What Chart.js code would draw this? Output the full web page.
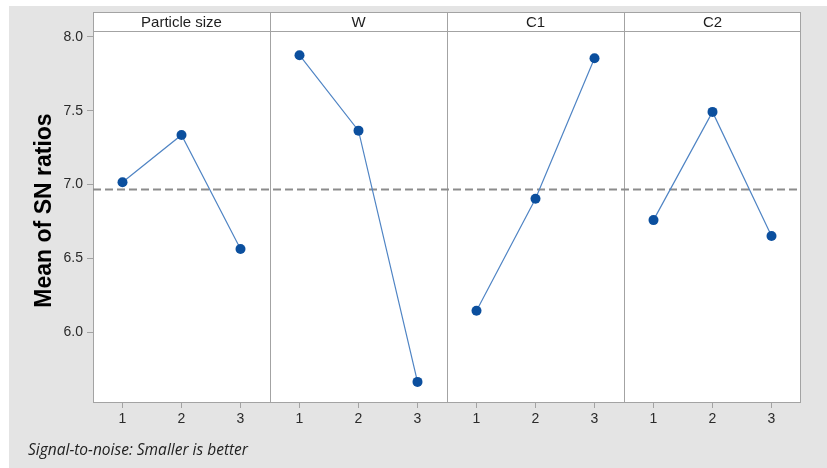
<!DOCTYPE html>
<html>
<head>
<meta charset="utf-8">
<script src="https://cdn.jsdelivr.net/npm/chart.js@4.4.1/dist/chart.umd.min.js"></script>
<style>
  html, body { margin: 0; padding: 0; background: #ffffff; }
  canvas { display: block; }
</style>
</head>
<body>
<canvas id="chart" width="827" height="468"></canvas>
<script>
// Main effects for SN ratios, one panel per factor
const factors = ['Particle size', 'W', 'C1', 'C2'];
const levels = ['1', '2', '3'];
const snParticleSize = [7.015, 7.336, 6.563];
const snW = [7.876, 7.365, 5.663];
const snC1 = [6.145, 6.904, 7.856];
const snC2 = [6.759, 7.492, 6.651];
const overallMean = 6.967;
const yTicks = [6.0, 6.5, 7.0, 7.5, 8.0];
const yTitle = 'Mean of SN ratios';
const footnote = 'Signal-to-noise: Smaller is better';

const seriesByFactor = [snParticleSize, snW, snC1, snC2];
const perPanel = levels.length;
const xMin = 0.5;
const xMax = factors.length * perPanel + 0.5;

const frameColor = '#a3a3a3';
const pointColor = '#0b4f9e';
const lineColor = '#4f84c4';

const datasets = seriesByFactor.map((vals, i) => ({
  label: factors[i],
  data: vals.map((v, j) => ({ x: i * perPanel + j + 1, y: v })),
  borderColor: lineColor,
  borderWidth: 1.2,
  pointBackgroundColor: pointColor,
  pointBorderColor: pointColor,
  pointRadius: 5,
  pointBorderWidth: 0,
  tension: 0,
  order: 0
}));

datasets.push({
  label: 'mean',
  data: [{ x: xMin, y: overallMean }, { x: xMax, y: overallMean }],
  borderColor: '#8c8c8c',
  borderWidth: 2,
  borderDash: [8, 4],
  pointRadius: 0,
  order: 10
});

const HEADER_H = 19;

const panelFrame = {
  id: 'panelFrame',
  beforeDraw(chart) {
    const { ctx, chartArea: a, width, height } = chart;
    ctx.save();
    ctx.fillStyle = '#ffffff';
    ctx.fillRect(0, 0, width, height);
    ctx.fillStyle = '#e4e4e4';
    ctx.fillRect(9, 6, width - 9, height - 6);
    ctx.fillStyle = '#ffffff';
    ctx.fillRect(a.left, a.top - HEADER_H, a.right - a.left, a.bottom - a.top + HEADER_H);
    ctx.restore();
  },
  beforeDatasetsDraw(chart) {
    const { ctx, chartArea: a, scales } = chart;
    const x = scales.x;
    ctx.save();
    ctx.strokeStyle = frameColor;
    ctx.lineWidth = 1;
    // panel dividers
    for (let i = 1; i < factors.length; i++) {
      const px = Math.round(x.getPixelForValue(i * perPanel + 0.5)) + 0.5;
      ctx.beginPath();
      ctx.moveTo(px, a.top - HEADER_H);
      ctx.lineTo(px, a.bottom);
      ctx.stroke();
    }
    // header strip
    ctx.beginPath();
    ctx.moveTo(a.left, Math.round(a.top) + 0.5);
    ctx.lineTo(a.right, Math.round(a.top) + 0.5);
    ctx.stroke();
    // outer frame
    ctx.strokeRect(Math.round(a.left) + 0.5, Math.round(a.top - HEADER_H) + 0.5,
                   Math.round(a.right - a.left) - 1, Math.round(a.bottom - a.top + HEADER_H) - 1);
    // factor names
    ctx.fillStyle = '#1e1e1e';
    ctx.font = '15px "Liberation Sans", Arial, sans-serif';
    ctx.textAlign = 'center';
    ctx.textBaseline = 'middle';
    factors.forEach((f, i) => {
      const cx = x.getPixelForValue(i * perPanel + (perPanel + 1) / 2);
      ctx.fillText(f, cx, a.top - HEADER_H / 2 + 1);
    });
    ctx.restore();
  },
  afterDraw(chart) {
    const { ctx, chartArea: a } = chart;
    ctx.save();
    // y axis title, centred on the whole framed box
    ctx.fillStyle = '#000000';
    ctx.font = 'bold 23px "Liberation Sans", Arial, sans-serif';
    ctx.textAlign = 'center';
    ctx.textBaseline = 'alphabetic';
    ctx.translate(51, (a.top - HEADER_H + a.bottom) / 2 + 3);
    ctx.rotate(-Math.PI / 2);
    ctx.fillText(yTitle, 0, 0);
    ctx.restore();
    ctx.save();
    ctx.fillStyle = '#222222';
    ctx.font = 'italic 15.5px "Open Sans", sans-serif';
    ctx.textAlign = 'left';
    ctx.textBaseline = 'middle';
    ctx.fillText(footnote, 28, 451);
    ctx.restore();
  }
};

new Chart(document.getElementById('chart'), {
  type: 'line',
  data: { datasets },
  plugins: [panelFrame],
  options: {
    responsive: false,
    animation: false,
    layout: { padding: { left: 9, top: 31, right: 26, bottom: 0 } },
    plugins: { legend: { display: false }, tooltip: { enabled: false } },
    scales: {
      x: {
        type: 'linear',
        min: xMin,
        max: xMax,
        afterBuildTicks(scale) {
          const t = [];
          for (let v = 1; v <= factors.length * perPanel; v++) t.push({ value: v });
          scale.ticks = t;
        },
        afterFit(scale) { scale.height = 65; },
        ticks: {
          autoSkip: false,
          maxRotation: 0,
          padding: 3,
          color: '#2a2a2a',
          font: { family: '"Liberation Sans Narrow", "Liberation Sans", Arial, sans-serif', size: 14 },
          callback: (v) => levels[(Math.round(v) - 1) % perPanel]
        },
        grid: { drawOnChartArea: false, drawTicks: true, tickLength: 5, color: frameColor },
        border: { display: false }
      },
      y: {
        type: 'linear',
        min: 5.52,
        max: 8.04,
        afterBuildTicks(scale) { scale.ticks = yTicks.map(v => ({ value: v })); },
        afterFit(scale) { scale.width = 84; },
        ticks: {
          padding: 4,
          color: '#2a2a2a',
          font: { family: '"Liberation Sans", Arial, sans-serif', size: 14 },
          callback: (v) => Number(v).toFixed(1)
        },
        grid: { drawOnChartArea: false, drawTicks: true, tickLength: 6, color: frameColor },
        border: { display: false }
      }
    }
  }
});
</script>
</body>
</html>
